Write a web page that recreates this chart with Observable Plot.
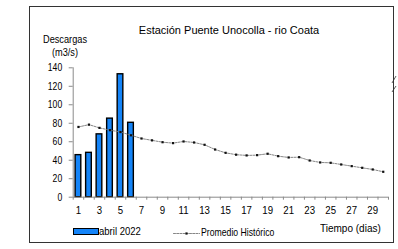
<!DOCTYPE html>
<html><head><meta charset="utf-8">
<script src="https://cdn.jsdelivr.net/npm/d3@7"></script>
<script src="https://cdn.jsdelivr.net/npm/@observablehq/plot@0.6"></script>
<style>
body{margin:0;background:#fff;}
#wrap{position:relative;width:398px;height:249px;overflow:hidden;font-family:"Liberation Sans",Arial,sans-serif;color:#000;}
#wrap svg{position:absolute;left:0;top:0;}
#frame{position:absolute;left:29px;top:6px;width:363px;height:235px;border:1.5px solid #333;}
.t{position:absolute;white-space:nowrap;line-height:1;font-size:11.5px;transform-origin:0 50%;}
#title{font-size:11px;left:129px;width:200px;text-align:center;top:24.5px;}
.yl{left:35px;width:60px;text-align:center;transform-origin:50% 50%;}
#sw1{position:absolute;left:73px;top:228px;width:24px;height:5px;background:#1484f8;border:1px solid #000;}
</style></head>
<body>
<div id="wrap">
<div id="frame"></div>
<div id="plot"></div>
<div class="t" id="title">Estación Puente Unocolla - rio Coata</div>
<div class="t yl" style="top:33.5px;transform:scaleX(0.8)">Descargas</div>
<div class="t yl" style="top:47px;transform:scaleX(0.8)">(m3/s)</div>
<div id="sw1"></div>
<div class="t" style="left:99px;top:226px;transform:scaleX(0.83)">abril 2022</div>
<div id="sw2"></div>
<div class="t" style="left:201px;top:227px;transform:scaleX(0.755)">Promedio Histórico</div>
<div class="t" style="left:320px;top:222.5px;transform:scaleX(0.87)">Tiempo (dias)</div>
<svg width="8" height="22" style="position:absolute;left:390px;top:74px"><path d="M6,2 L2,9 M6,12 L2,18" stroke="#333" stroke-width="0.8" fill="none"/></svg>
</div>
<script>
const days = [1,2,3,4,5,6,7,8,9,10,11,12,13,14,15,16,17,18,19,20,21,22,23,24,25,26,27,28,29,30];
const aprilDays = [1,2,3,4,5,6];
const april2022 = [45.5, 48, 68, 85, 133, 80.5];
const historico = [76, 78.5, 75, 72.5, 70.5, 67, 63.5, 61.5, 59.5, 58.5, 60.3, 59.2, 56.7, 51.6, 48, 46, 45.2, 45.5, 47, 44.4, 43, 43.3, 39.7, 37.6, 37.2, 35.4, 33.6, 31.8, 30, 27.5];
const yTicks = [0,20,40,60,80,100,120,140];
const xLabels = [1,3,5,7,9,11,13,15,17,19,21,23,25,27,29];

const barData = aprilDays.map((d,i)=>({day:d, v:april2022[i]}));
const histData = days.map((d,i)=>({day:d, v:historico[i]}));
const bounds = days.map(d=>d-0.5).concat([days[days.length-1]+0.5]);

const axisColor = "#8a8a8a";
const chart = Plot.plot({
  width:398, height:249,
  marginLeft:72.7, marginRight:10, marginTop:67.3, marginBottom:52.3,
  style:{fontFamily:'"Liberation Sans",Arial,sans-serif', fontSize:"11.5px", color:"#000", background:"transparent"},
  x:{domain:[bounds[0], bounds[bounds.length-1]]},
  y:{domain:[0,140]},
  marks:[
    Plot.rectY(barData,{x1:d=>d.day-0.27, x2:d=>d.day+0.27, y:"v", fill:"#1484f8", stroke:"#000", strokeWidth:1.4}),
    Plot.line(histData,{x:"day", y:"v", stroke:"#777", strokeWidth:0.9, strokeDasharray:"2,1.2"}),
    Plot.dot(histData,{x:"day", y:"v", symbol:"square", r:1.25, fill:"#111", stroke:null}),
    Plot.ruleX([bounds[0]],{stroke:axisColor}),
    Plot.ruleY([0],{stroke:axisColor}),
    Plot.axisY({ticks:yTicks, tickSize:4, tickPadding:7, stroke:axisColor, fill:"#000", fontSize:11.5, label:null}),
    Plot.axisX({ticks:bounds, tickSize:3, tickFormat:()=>"", stroke:axisColor, label:null}),
    Plot.axisX({ticks:xLabels, tickSize:0, tickPadding:9, tickFormat:d=>String(d), fill:"#000", fontSize:11.5, label:null})
  ]
});
document.getElementById("plot").appendChild(chart);

// condense the tick labels horizontally, like the reference's narrow rendering
function condense(sel, s){
  chart.querySelectorAll(sel).forEach(t=>{
    const tr = t.getAttribute("transform");
    if (tr) { t.setAttribute("transform", tr + ` scale(${s},1)`); }
    else {
      const x = +t.getAttribute("x") || 0, y = +t.getAttribute("y") || 0;
      t.removeAttribute("x"); t.removeAttribute("y");
      t.setAttribute("transform", `translate(${x},${y}) scale(${s},1)`);
    }
  });
}
condense('g[aria-label="y-axis tick label"] text', 0.75);
condense('g[aria-label="x-axis tick label"] text', 0.84);

// legend swatch for the line
const sw = Plot.plot({
  width:30, height:8, margin:0,
  x:{domain:[0,2], range:[1,27]}, y:{domain:[0,1], range:[8,0]}, axis:null,
  style:{background:"transparent"},
  marks:[
    Plot.line([{x:0,y:0.5},{x:2,y:0.5}],{x:"x",y:"y",stroke:"#777",strokeWidth:0.9,strokeDasharray:"2,1.2"}),
    Plot.dot([{x:1,y:0.5}],{x:"x",y:"y",symbol:"square",r:1.25,fill:"#111"})
  ]
});
const holder = document.getElementById("sw2");
holder.replaceWith(sw);
sw.style.position="absolute"; sw.style.left="172px"; sw.style.top="229px";
</script>
</body></html>
